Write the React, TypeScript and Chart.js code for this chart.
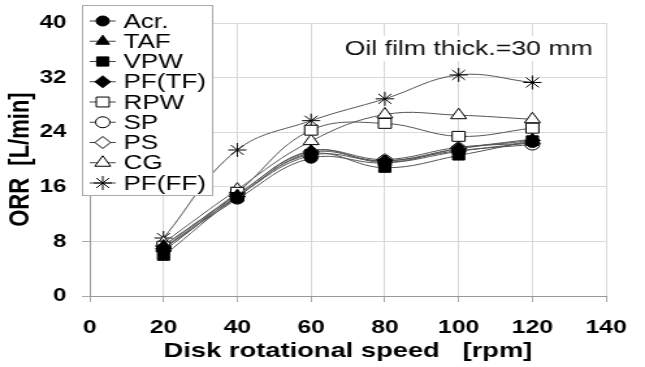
import React, { useEffect, useRef } from 'react';
import { Chart, registerables } from 'chart.js';
import { drawPoint } from 'chart.js/helpers';

Chart.register(...registerables);

// ---- data ----
const speeds = [20, 40, 60, 80, 100, 120];
const seriesNames = ['Acr.', 'TAF', 'VPW', 'PF(TF)', 'RPW', 'SP', 'PS', 'CG', 'PF(FF)'];
const acr = [7.0, 14.2, 20.2, 19.5, 21.2, 22.5];
const taf = [7.4, 14.8, 21.3, 19.6, 21.6, 23.0];
const vpw = [5.9, 14.5, 20.8, 18.8, 20.6, 22.8];
const pfTF = [6.6, 14.6, 21.0, 19.8, 21.6, 22.8];
const rpw = [7.3, 15.2, 24.3, 25.3, 23.4, 24.6];
const sp = [6.9, 14.6, 20.6, 19.8, 21.3, 22.2];
const ps = [7.0, 14.9, 21.2, 20.0, 21.8, 22.4];
const cg = [7.8, 15.6, 22.7, 26.6, 26.5, 25.9];
const pfFF = [8.5, 21.4, 25.7, 28.9, 32.4, 31.3];
const seriesValues = [acr, taf, vpw, pfTF, rpw, sp, ps, cg, pfFF];
const xTickStep = 20;
const yTickStep = 8;
const noteText = 'Oil film thick.=30 mm';
const xTitle = 'Disk rotational speed   [rpm]';
const yTitle = 'ORR  [L/min]';

// ---- styles ----
const FONT = '"Liberation Sans", Arial, Helvetica, sans-serif';
const markers = [
  { style: 'circle', fill: '#000', r: 5 },
  { style: 'triangle', fill: '#000', r: 6 },
  { style: 'rect', fill: '#000', r: 6.5 },
  { style: 'rectRot', fill: '#000', r: 6 },
  { style: 'rect', fill: '#fff', r: 7 },
  { style: 'circle', fill: '#fff', r: 5.5 },
  { style: 'rectRot', fill: '#fff', r: 6 },
  { style: 'triangle', fill: '#fff', r: 7 },
  { style: 'star', fill: '#000', r: 7 },
];

const W = 496; // internal width, stretched to 645 by CSS
const H = 367;

const overlayPlugin = {
  id: 'overlay',
  afterDraw(chart: any) {
    const ctx = chart.ctx as CanvasRenderingContext2D;
    ctx.save();
    // note
    ctx.font = `20.5px ${FONT}`;
    const nx = 265;
    const tw = ctx.measureText(noteText).width;
    ctx.fillStyle = '#fff';
    ctx.fillRect(nx - 3, 36, tw + 6, 25);
    ctx.fillStyle = '#111';
    ctx.textBaseline = 'middle';
    ctx.textAlign = 'left';
    ctx.fillText(noteText, nx, 49);

    // legend
    const bx = 63, by = 5, bw = 100, bh = 190;
    ctx.fillStyle = '#fff';
    ctx.fillRect(bx, by, bw, bh);
    ctx.strokeStyle = '#aaa';
    ctx.lineWidth = 1;
    ctx.strokeRect(bx + 0.5, by + 0.5, bw, bh);
    seriesNames.forEach((name, i) => {
      const y = 21 + i * 20.25;
      ctx.strokeStyle = '#444';
      ctx.lineWidth = 1;
      ctx.beginPath();
      ctx.moveTo(69, y);
      ctx.lineTo(89, y);
      ctx.stroke();
      const m = markers[i];
      ctx.fillStyle = m.fill;
      ctx.strokeStyle = '#000';
      ctx.lineWidth = 1;
      drawPoint(ctx, { pointStyle: m.style as any, rotation: 0, radius: m.r, borderWidth: 1 }, 79, y);
      ctx.fillStyle = '#000';
      ctx.font = `20px ${FONT}`;
      ctx.textBaseline = 'middle';
      ctx.fillText(name, 95, y + 1);
    });
    ctx.restore();
  },
};

export default function App() {
  const ref = useRef<HTMLCanvasElement | null>(null);
  useEffect(() => {
    document.body.style.margin = '0';
    const canvas = ref.current!;
    const chart = new Chart(canvas, {
      type: 'line',
      data: {
        datasets: seriesNames.map((name, i) => ({
          label: name,
          data: speeds.map((x, j) => ({ x, y: seriesValues[i][j] })),
          borderColor: '#555',
          borderWidth: 1,
          tension: 0.4,
          pointStyle: markers[i].style as any,
          pointRadius: markers[i].r,
          pointBackgroundColor: markers[i].fill,
          pointBorderColor: '#000',
          pointBorderWidth: 1,
          fill: false,
        })),
      },
      options: {
        responsive: false,
        animation: false,
        devicePixelRatio: 1,
        layout: { padding: { top: 23, right: 17, left: 0, bottom: 0 } },
        plugins: { legend: { display: false }, tooltip: { enabled: false } },
        scales: {
          x: {
            type: 'linear',
            min: 0,
            max: 140,
            ticks: {
              stepSize: xTickStep,
              font: { size: 19, weight: 'bold', family: FONT },
              color: '#000',
              padding: 14,
              maxRotation: 0,
              autoSkip: false,
            },
            grid: { color: '#d9d9d9', tickLength: 6, tickColor: '#aaa' },
            border: { color: '#999' },
            title: {
              display: true,
              text: xTitle,
              color: '#000',
              font: { size: 21, weight: 'bold', family: FONT },
              padding: { top: 0, bottom: 3 },
            },
            afterFit: (s: any) => { s.height = 71; },
          },
          y: {
            type: 'linear',
            min: 0,
            max: 40,
            ticks: {
              stepSize: yTickStep,
              font: { size: 18.5, weight: 'bold', family: FONT },
              color: '#000',
              padding: 12,
            },
            grid: { color: '#d9d9d9', tickLength: 6, tickColor: '#aaa' },
            border: { color: '#999' },
            title: {
              display: true,
              text: yTitle,
              color: '#000',
              font: { size: 22, weight: 'bold', family: FONT },
              padding: { top: 3, bottom: 0 },
            },
            afterFit: (s: any) => { s.width = 69; },
          },
        },
      },
      plugins: [overlayPlugin],
    });
    return () => chart.destroy();
  }, []);
  return (
    <canvas
      ref={ref}
      width={W}
      height={H}
      style={{ width: '645px', height: '367px', display: 'block' }}
    />
  );
}
